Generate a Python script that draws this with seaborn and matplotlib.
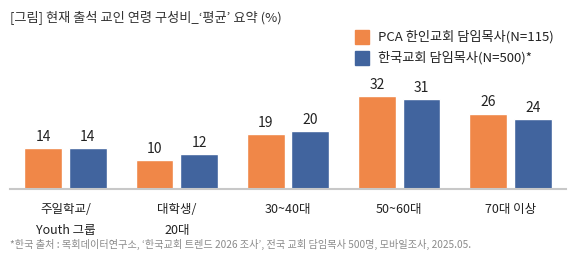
import matplotlib
matplotlib.use("Agg")
import matplotlib.pyplot as plt
import pandas as pd
import seaborn as sns

categories = ["주일학교/\nYouth 그룹", "대학생/\n20대", "30~40대", "50~60대", "70대 이상"]
series_names = ["PCA 한인교회 담임목사(N=115)", "한국교회 담임목사(N=500)*"]
pca_values = [14, 10, 19, 32, 26]
korea_values = [14, 12, 20, 31, 24]
colors = ["#F08748", "#41649E"]

title = "[그림] 현재 출석 교인 연령 구성비_‘평균’ 요약 (%)"
footnote = "*한국 출처 : 목회데이터연구소, ‘한국교회 트렌드 2026 조사’, 전국 교회 담임목사 500명, 모바일조사, 2025.05."

sns.set_theme(style="white")
plt.rcParams["font.family"] = ["Noto Sans CJK KR", "DejaVu Sans"]

df = pd.DataFrame(
    {
        "category": categories * 2,
        "series": [series_names[0]] * len(categories) + [series_names[1]] * len(categories),
        "value": pca_values + korea_values,
    }
)

fig = plt.figure(figsize=(5.82, 2.70), dpi=100)
ax = fig.add_axes([10 / 582, 0.30, 556 / 582, 0.626])
sns.barplot(
    data=df,
    x="category",
    y="value",
    hue="series",
    palette=colors,
    width=0.8,
    gap=0.15,
    saturation=1,
    legend=False,
    ax=ax,
)
ax.set_xlim(-0.5, len(categories) - 0.5)
ax.set_ylim(0, 58.3)

for container in ax.containers:
    ax.bar_label(container, fmt="%d", padding=3, fontsize=10, color="#222222")

for spine in ["top", "right", "left"]:
    ax.spines[spine].set_visible(False)
ax.spines["bottom"].set_color("#C8C8C8")
ax.spines["bottom"].set_linewidth(1.5)
ax.set_yticks([])
ax.set_xlabel("")
ax.set_ylabel("")
ax.tick_params(axis="x", length=0, pad=10, labelsize=9, colors="#222222")
for lbl in ax.get_xticklabels():
    lbl.set_linespacing(1.85)

fig.text(10 / 582, 1 - 17 / 270, title, fontsize=9.5, color="#333333", va="center", ha="left")

# legend drawn as squares + text in figure coords
for i, (name, color) in enumerate(zip(series_names, colors)):
    yc = 1 - (37 + i * 20.5) / 270
    fig.patches.append(
        plt.Rectangle((355 / 582, yc - 7 / 270), 14 / 582, 14 / 270,
                      transform=fig.transFigure, color=color, figure=fig)
    )
    fig.text(378 / 582, yc, name, fontsize=9.5, color="#222222", va="center", ha="left")

fig.text(10 / 582, 1 - 244 / 270, footnote, fontsize=7.3, color="#8A8A8A", va="center", ha="left")

fig.savefig("out.png", dpi=100)
